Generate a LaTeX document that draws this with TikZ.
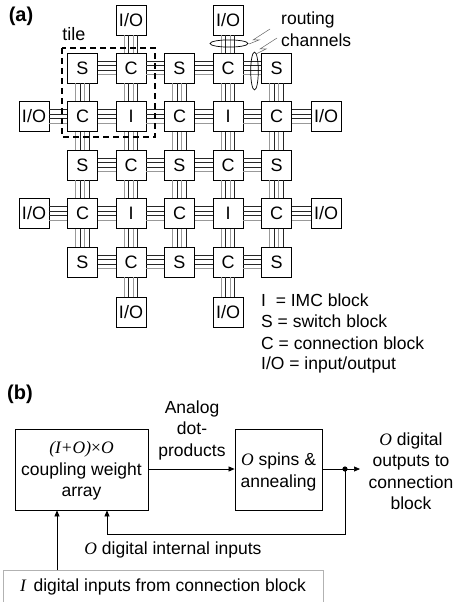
\documentclass[tikz,border=0pt]{standalone}
\usepackage{fontspec}
\setmainfont{Liberation Sans}
\newfontfamily\seriffont{Liberation Serif}
\usetikzlibrary{arrows.meta}
\newcommand\hchan[2]{%
  \foreach \o/\s in {6.75/ch,2.25/ch,-2.25/ch,-6.75/chg}
    \draw[\s] ([yshift=\o pt]#1.east) -- ([yshift=\o pt]#2.west);}
\newcommand\vchan[2]{%
  \foreach \o/\s in {-6.75/chg,-2.25/ch,2.25/chg,6.75/ch}
    \draw[\s] ([xshift=\o pt]#1.south) -- ([xshift=\o pt]#2.north);}
\begin{document}
\begin{tikzpicture}[x=1pt,y=-1pt,
  blk/.style={draw,line width=0.8pt,minimum width=30pt,minimum height=30pt,inner sep=0pt,
    font=\fontsize{18}{18}\selectfont},
  ch/.style={line width=0.6pt,black!85},
  chg/.style={line width=0.6pt,black!40},
  txt/.style={font=\fontsize{17.5}{21.5}\selectfont,align=center,inner sep=0pt},
  bbox/.style={draw,line width=0.8pt,inner sep=0pt},
  arr/.style={line width=0.7pt,-{Triangle[length=6pt,width=5pt]}},
  plain/.style={line width=0.7pt},
  pointer/.style={line width=0.5pt,black!60}]
\useasboundingbox (0,0) rectangle (453,602);
% ---------- panel (a) ----------
\node[font=\fontsize{20}{20}\bfseries\selectfont,inner sep=0pt] (la) at (21,16) {(a)};
\foreach \t [count=\c] in {S,C,S,C,S} \node[blk] (n1\c) at ({82.5+48.5*(\c-1)},68) {\t};
\foreach \t [count=\c] in {C,I,C,I,C} \node[blk] (n2\c) at ({82.5+48.5*(\c-1)},116.5) {\t};
\foreach \t [count=\c] in {S,C,S,C,S} \node[blk] (n3\c) at ({82.5+48.5*(\c-1)},165) {\t};
\foreach \t [count=\c] in {C,I,C,I,C} \node[blk] (n4\c) at ({82.5+48.5*(\c-1)},213.5) {\t};
\foreach \t [count=\c] in {S,C,S,C,S} \node[blk] (n5\c) at ({82.5+48.5*(\c-1)},262) {\t};
\node[blk] (tio1) at (131,20) {I/O};
\node[blk] (tio2) at (228,20) {I/O};
\node[blk] (bio1) at (131,312) {I/O};
\node[blk] (bio2) at (228,312) {I/O};
\node[blk] (lio1) at (34,116.5) {I/O};
\node[blk] (lio2) at (34,213.5) {I/O};
\node[blk] (rio1) at (326,116.5) {I/O};
\node[blk] (rio2) at (326,213.5) {I/O};
\foreach \r in {1,2,3,4,5}
  \foreach \a/\b in {1/2,2/3,3/4,4/5}
    \hchan{n\r\a}{n\r\b};
\foreach \c in {1,2,3,4,5}
  \foreach \a/\b in {1/2,2/3,3/4,4/5}
    \vchan{n\a\c}{n\b\c};
\hchan{lio1}{n21}
\hchan{lio2}{n41}
\hchan{n25}{rio1}
\hchan{n45}{rio2}
\vchan{tio1}{n12}
\vchan{tio2}{n14}
\vchan{n52}{bio1}
\vchan{n54}{bio2}
% tile
\draw[line width=2pt,dash pattern=on 6pt off 4pt] (62,48) rectangle (155,137);
\node[txt,font=\fontsize{18}{18}\selectfont] (tile) at (74,34) {tile};
% routing channels
\draw[line width=0.7pt] (229,43.5) ellipse [x radius=19, y radius=3.6];
\draw[line width=0.7pt] (254.5,71) ellipse [x radius=3.8, y radius=19];
\node[txt,align=left,anchor=west] (rc) at (281,29) {routing\\channels};
\coordinate (p1) at (270,29);
\coordinate (p2) at (277,38);
\draw[pointer] (p1) -- (253,40) -- (259,40) -- (249,44);
\draw[pointer] (p2) -- (260,49) -- (266,49) -- (256,54);
% legend
\node[txt,anchor=west,font=\fontsize{17.5}{17.5}\selectfont] (lg1) at (261,300) {I\ \ = IMC block};
\node[txt,anchor=west,font=\fontsize{17.5}{17.5}\selectfont] (lg2) at (261,321.5) {S = switch block};
\node[txt,anchor=west,font=\fontsize{17.5}{17.5}\selectfont] (lg3) at (261,343) {C = connection block};
\node[txt,anchor=west,font=\fontsize{17.5}{17.5}\selectfont] (lg4) at (261,364.5) {I/O = input/output};
% ---------- panel (b) ----------
\node[font=\fontsize{20}{20}\bfseries\selectfont,inner sep=0pt] (lb) at (20,394) {(b)};
\node[bbox,minimum width=133pt,minimum height=81pt] (wa) at (81.5,469.5) {};
\node[txt] (wat) at (81.5,471) {{\seriffont\itshape (I+O)\upshape{}×\itshape O}\\coupling weight\\array};
\node[bbox,minimum width=87pt,minimum height=81pt] (sp) at (278.5,469.5) {};
\node[txt] (spt) at (278.5,472) {{\seriffont\itshape O} spins \&\\annealing};
\node[txt] (adp) at (192,430) {Analog\\dot-\\products};
\draw[arr] (wa.east |- 0,469) -- (sp.west |- 0,469);
\coordinate (dot) at (345,469);
\coordinate (oend) at (360,469);
\draw[plain] (sp.east |- 0,469) -- (dot);
\draw[arr] (dot) -- (oend);
\fill (dot) circle (2.6pt);
\coordinate (fb1) at (345,534);
\coordinate (fb2) at (107,534);
\draw[arr] (dot) -- (fb1) -- (fb2) -- (fb2 |- wa.south);
\node[txt] (out) at (411,471) {{\seriffont\itshape O} digital\\outputs to\\connection\\block};
\node[txt] (dii) at (173,550) {{\seriffont\itshape O} digital internal inputs};
\draw[draw=black!30,line width=0.8pt] (3,605) -- (3,570) -- (323,570) -- (323,605);
\node[txt] (ext) at (163,587) {{\seriffont\itshape I}\, digital inputs from connection block};
\coordinate (eb) at (57,570);
\draw[arr] (eb) -- (eb |- wa.south);
\end{tikzpicture}
\end{document}
